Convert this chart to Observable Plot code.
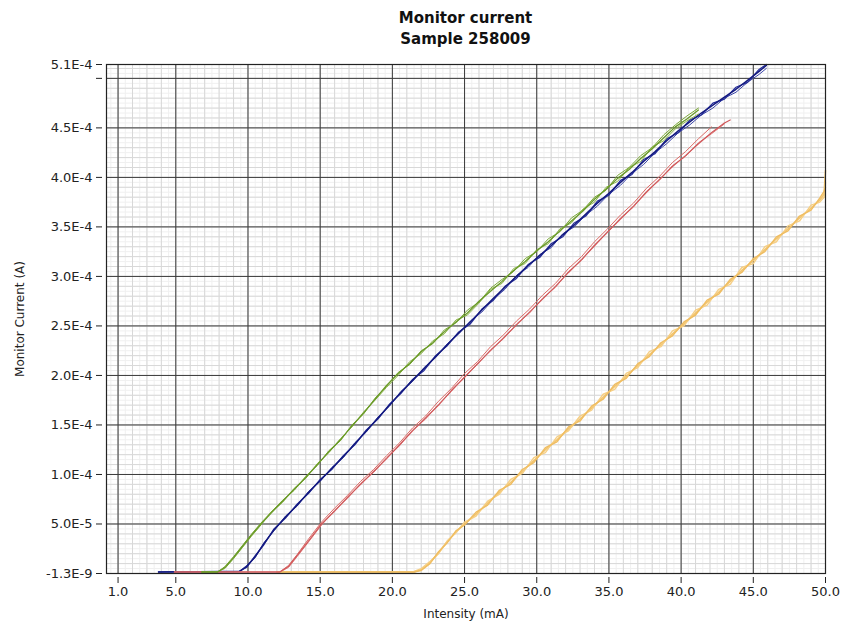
<!DOCTYPE html>
<html>
<head>
<meta charset="utf-8">
<script src="https://cdn.jsdelivr.net/npm/d3@7"></script>
<script src="https://cdn.jsdelivr.net/npm/@observablehq/plot@0.6"></script>
<style>
  body { margin: 0; background: #fff; width: 841px; }
  #title { height: 50px; box-sizing: border-box; padding-top: 8px; width: 841px;
           font-family: "DejaVu Sans", sans-serif; font-weight: bold; font-size: 15px; line-height: 21px;
           color: #111; }
  #title div { position: relative; left: 106px; width: 719px; text-align: center; }
</style>
</head>
<body>
<div id="title"><div>Monitor current<br>Sample 258009</div></div>
<div id="chart"></div>
<script>
// Axis ticks
const xTicks = [1, 5, 10, 15, 20, 25, 30, 35, 40, 45, 50];
const xTickLabels = ["1.0", "5.0", "10.0", "15.0", "20.0", "25.0", "30.0", "35.0", "40.0", "45.0", "50.0"];
const yTicks = [-1.3e-9, 5e-5, 1e-4, 1.5e-4, 2e-4, 2.5e-4, 3e-4, 3.5e-4, 4e-4, 4.5e-4, 5e-4, 5.14e-4];
const yTickLabels = ["-1.3E-9", "5.0E-5", "1.0E-4", "1.5E-4", "2.0E-4", "2.5E-4", "3.0E-4", "3.5E-4", "4.0E-4", "4.5E-4", "", "5.1E-4"];

// Intensity (mA) samples and monitor current (in units of 1e-4 A)
const greenX = [6.8,7.9,8.4,9.0,9.6,10.2,10.9,11.6,12.4,13.2,14.0,14.8,15.6,16.4,17.2,18.0,18.8,19.6,20.4,21.2,22.0,22.8,23.6,24.4,25.2,26.0,26.8,27.6,28.4,29.2,30.0,30.8,31.6,32.4,33.2,34.0,34.8,35.6,36.4,37.2,38.0,38.8,39.6,40.4,41.2];
const greenY1 = [0.015,0.015,0.06,0.16,0.27,0.38,0.50,0.61,0.73,0.85,0.97,1.10,1.23,1.35,1.49,1.62,1.76,1.90,2.02,2.12,2.24,2.33,2.44,2.54,2.63,2.75,2.85,2.95,3.06,3.15,3.26,3.35,3.46,3.56,3.66,3.78,3.88,3.99,4.08,4.19,4.29,4.40,4.51,4.59,4.68];
const greenY2 = [0.015,0.02,0.05,0.15,0.26,0.37,0.49,0.62,0.72,0.86,0.96,1.11,1.22,1.36,1.48,1.63,1.75,1.88,2.00,2.14,2.22,2.35,2.42,2.56,2.61,2.73,2.87,2.93,3.08,3.13,3.27,3.33,3.48,3.54,3.68,3.75,3.90,3.96,4.10,4.16,4.31,4.37,4.49,4.57,4.64];
const greenY3 = [0.015,0.015,0.07,0.17,0.28,0.39,0.51,0.62,0.74,0.84,0.98,1.09,1.24,1.34,1.50,1.61,1.77,1.89,2.03,2.11,2.25,2.32,2.46,2.53,2.66,2.74,2.88,2.97,3.05,3.18,3.25,3.38,3.45,3.59,3.67,3.80,3.87,4.02,4.10,4.22,4.30,4.43,4.53,4.62,4.70];

const blueX = [3.8,9.4,9.9,10.5,11.1,11.8,12.6,13.4,14.2,15.0,15.8,16.6,17.4,18.2,19.0,19.8,20.6,21.4,22.2,23.0,23.8,24.6,25.4,26.2,27.0,27.8,28.6,29.4,30.2,31.0,31.8,32.6,33.4,34.2,35.0,35.8,36.6,37.4,38.2,39.0,39.8,40.6,41.4,42.2,43.0,43.8,44.6,45.4,45.9];
const blueY1 = [0.015,0.02,0.07,0.17,0.30,0.44,0.57,0.69,0.82,0.94,1.06,1.18,1.31,1.44,1.57,1.70,1.83,1.95,2.07,2.19,2.31,2.43,2.54,2.66,2.78,2.89,3.00,3.11,3.21,3.31,3.42,3.52,3.63,3.74,3.84,3.95,4.05,4.16,4.26,4.37,4.47,4.56,4.65,4.73,4.81,4.89,4.98,5.07,5.13];
const blueY2 = [0.015,0.025,0.06,0.18,0.29,0.45,0.56,0.70,0.81,0.95,1.05,1.19,1.30,1.45,1.56,1.71,1.82,1.96,2.05,2.20,2.30,2.44,2.52,2.67,2.76,2.90,2.98,3.12,3.19,3.33,3.40,3.54,3.61,3.76,3.82,3.97,4.03,4.18,4.24,4.39,4.45,4.58,4.63,4.75,4.79,4.91,4.96,5.09,5.14];
const blueY3 = [0.015,0.02,0.08,0.16,0.31,0.43,0.58,0.68,0.83,0.93,1.07,1.17,1.32,1.43,1.58,1.69,1.84,1.94,2.08,2.18,2.32,2.42,2.55,2.64,2.77,2.87,3.01,3.09,3.22,3.29,3.43,3.50,3.62,3.71,3.83,3.92,4.04,4.13,4.25,4.34,4.45,4.53,4.63,4.70,4.80,4.86,4.96,5.04,5.10];

const redX = [4.9,12.2,12.8,13.4,14.2,15.1,16.0,16.9,17.8,18.7,19.6,20.5,21.4,22.3,23.2,24.1,25.0,25.9,26.8,27.7,28.6,29.5,30.4,31.3,32.2,33.1,34.0,34.9,35.8,36.7,37.6,38.5,39.4,40.3,41.2,42.1,43.0,43.4];
const redY1 = [0.015,0.015,0.07,0.18,0.33,0.50,0.63,0.77,0.90,1.03,1.16,1.30,1.44,1.57,1.70,1.85,1.98,2.12,2.25,2.38,2.51,2.64,2.77,2.90,3.04,3.17,3.31,3.45,3.58,3.71,3.85,3.98,4.11,4.22,4.34,4.45,4.55,4.58];
const redY2 = [0.015,0.015,0.08,0.19,0.35,0.52,0.66,0.79,0.93,1.05,1.19,1.32,1.47,1.59,1.74,1.87,2.02,2.14,2.29,2.41,2.55,2.67,2.81,2.93,3.08,3.20,3.35,3.48,3.62,3.74,3.89,4.01,4.15,4.26,4.39,4.51];
const redY3 = [0.015,0.015,0.06,0.17,0.32,0.49,0.64,0.76,0.91,1.02,1.17,1.29,1.45,1.56,1.71,1.84,1.99,2.11,2.26,2.37,2.52,2.63,2.78,2.89,3.05,3.16,3.32,3.44,3.59,3.70,3.86,3.97,4.12,4.21,4.35,4.44,4.54];

const yellowX = [12.0,21.5,22.0,22.6,23.2,23.8,24.4,25.0,25.8,26.6,27.4,28.2,29.0,29.8,30.6,31.4,32.2,33.0,33.8,34.6,35.4,36.2,37.0,37.8,38.6,39.4,40.2,41.0,41.8,42.6,43.4,44.2,45.0,45.8,46.6,47.4,48.2,49.0,49.6,49.9,50.0];
const yellowY1 = [0.015,0.015,0.04,0.11,0.21,0.32,0.42,0.50,0.60,0.71,0.82,0.92,1.03,1.14,1.25,1.35,1.46,1.56,1.67,1.78,1.89,1.99,2.10,2.21,2.31,2.42,2.52,2.63,2.74,2.84,2.95,3.06,3.16,3.27,3.38,3.48,3.59,3.69,3.77,3.83,4.07];
const yellowY2 = [0.015,0.02,0.05,0.12,0.20,0.33,0.41,0.52,0.58,0.73,0.80,0.95,1.01,1.17,1.22,1.38,1.44,1.59,1.65,1.81,1.86,2.02,2.08,2.24,2.29,2.45,2.50,2.66,2.71,2.87,2.92,3.09,3.13,3.30,3.35,3.51,3.56,3.72,3.75,3.80,3.95];
const yellowY3 = [0.015,0.015,0.03,0.10,0.22,0.31,0.43,0.49,0.62,0.69,0.84,0.90,1.05,1.12,1.27,1.33,1.48,1.54,1.69,1.76,1.91,1.97,2.12,2.19,2.33,2.40,2.54,2.61,2.76,2.82,2.97,3.04,3.18,3.25,3.40,3.46,3.61,3.67,3.79,3.86,3.90];

const traces = [
  {xs: yellowX, ys: yellowY1, color: "#f3c56e", w: 1.6},
  {xs: yellowX, ys: yellowY2, color: "#f6cf85", w: 1.4},
  {xs: yellowX, ys: yellowY3, color: "#efbd62", w: 1.4},
  {xs: blueX, ys: blueY3, color: "#3c46a8", w: 1},
  {xs: blueX, ys: blueY2, color: "#242c98", w: 1.2},
  {xs: blueX, ys: blueY1, color: "#141a80", w: 1.5},
  {xs: redX, ys: redY2, color: "#dc6a66", w: 1},
  {xs: redX, ys: redY3, color: "#e08080", w: 1},
  {xs: redX, ys: redY1, color: "#d0585a", w: 1.2},
  {xs: greenX, ys: greenY2, color: "#8cb44a", w: 1},
  {xs: greenX, ys: greenY3, color: "#7aa836", w: 1},
  {xs: greenX, ys: greenY1, color: "#6a9a28", w: 1.3}
];

function toRows(t) {
  const rows = [];
  for (let i = 0; i < t.ys.length; i++) rows.push({x: t.xs[i], y: t.ys[i] * 1e-4});
  return rows;
}

const minorX = d3.range(1, 50.01, 1);
const faintX = d3.range(0.5, 50.01, 0.5);
const minorY = d3.range(1e-5, 5.14e-4, 1e-5);
const faintY = d3.range(5e-6, 5.14e-4, 5e-6);
const majorX = [1, 5, 10, 15, 20, 25, 30, 35, 40, 45];
const majorY = [5e-5, 1e-4, 1.5e-4, 2e-4, 2.5e-4, 3e-4, 3.5e-4, 4e-4, 4.5e-4, 5e-4];

const chart = Plot.plot({
  width: 841,
  height: 579,
  marginTop: 14,
  marginLeft: 106,
  marginRight: 16,
  marginBottom: 56,
  style: {fontFamily: "DejaVu Sans, sans-serif", fontSize: "13px", color: "#222", background: "#fff"},
  x: {domain: [0.2, 50]},
  y: {domain: [-1.3e-9, 5.14e-4]},
  marks: [
    Plot.gridX(faintX, {stroke: "#f0f0f0", strokeOpacity: 1}),
    Plot.gridY(faintY, {stroke: "#f0f0f0", strokeOpacity: 1}),
    Plot.gridX(minorX, {stroke: "#d8d8d8", strokeOpacity: 1}),
    Plot.gridY(minorY, {stroke: "#d8d8d8", strokeOpacity: 1}),
    Plot.gridX(majorX, {stroke: "#3a3a3a", strokeOpacity: 1}),
    Plot.gridY(majorY, {stroke: "#3a3a3a", strokeOpacity: 1}),
    ...traces.map(t => Plot.line(toRows(t), {x: "x", y: "y", stroke: t.color, strokeWidth: t.w})),
    Plot.frame({stroke: "#222", strokeWidth: 1.2}),
    Plot.axisX(xTicks, {tickFormat: (d, i) => xTickLabels[i], tickSize: 6, tickPadding: 3, dy: 4, label: null, stroke: "#222"}),
    Plot.axisY(yTicks, {tickFormat: (d, i) => yTickLabels[i], tickSize: 6, tickPadding: 4, dx: -4, label: null, stroke: "#222"}),
    Plot.text(["Intensity (mA)"], {frameAnchor: "bottom", dy: 44, fontSize: 12, fill: "#222"}),
    Plot.text(["Monitor Current (A)"], {frameAnchor: "left", dx: -86, rotate: -90, textAnchor: "middle", fontSize: 12, fill: "#222"})
  ]
});
document.getElementById("chart").appendChild(chart);
</script>
</body>
</html>
